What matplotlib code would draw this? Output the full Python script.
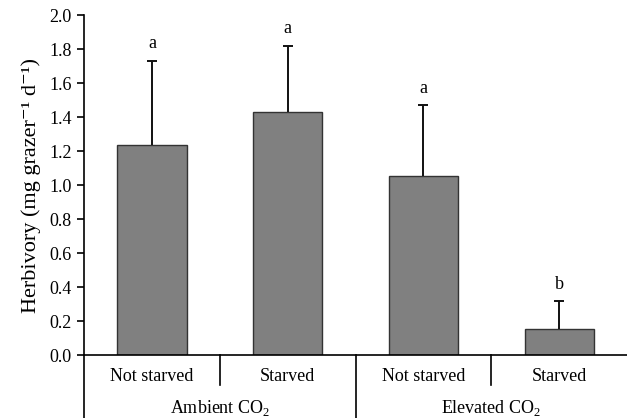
import matplotlib
matplotlib.use("Agg")
import matplotlib.pyplot as plt
import numpy as np

plt.rcParams['font.family'] = ['Liberation Serif', 'DejaVu Serif']
plt.rcParams['mathtext.fontset'] = 'custom'
plt.rcParams['mathtext.rm'] = 'Liberation Serif'

# herbivory means and upper error (SE) per treatment
treatments = ["Not starved", "Starved", "Not starved", "Starved"]
groups = ["Ambient CO$_\\mathrm{2}$", "Elevated CO$_\\mathrm{2}$"]
means = [1.235, 1.43, 1.055, 0.155]
errors = [0.495, 0.39, 0.415, 0.16]
letters = ["a", "a", "a", "b"]

fig = plt.figure(figsize=(6.27, 4.18), dpi=100)
ax = fig.add_axes([0.134, 0.1507, 0.866, 0.8133])

x = np.arange(len(means))
ax.bar(x, means, width=0.51, color="#808080", edgecolor="#333333", linewidth=1.0, zorder=2)
eb = ax.errorbar(x, means, yerr=[np.zeros(len(errors)), errors], fmt='none',
                 ecolor="#111111", elinewidth=1.4, capsize=3.5, capthick=1.4, zorder=3)
eb[1][0].set_visible(False)  # no cap at the bar top

for xi, m, e, lt in zip(x, means, errors, letters):
    ax.text(xi, m + e + 0.05, lt, ha='center', va='bottom', fontsize=13)

ax.set_xlim(-0.5, 3.5)
ax.set_ylim(0, 2.0)
ax.set_yticks(np.arange(0, 2.01, 0.2))
ax.set_yticklabels([f"{v:.1f}" for v in np.arange(0, 2.01, 0.2)], fontsize=13)
ax.set_xticks([])
ax.tick_params(axis='y', direction='out', length=5, width=1.2, pad=4)
ax.set_ylabel("Herbivory (mg grazer⁻¹ d⁻¹)", fontsize=16, labelpad=6)

for s in ['top', 'right']:
    ax.spines[s].set_visible(False)
ax.spines['left'].set_linewidth(1.2)
ax.spines['bottom'].set_linewidth(1.2)

# two-level category axis below the bars
trans = ax.get_xaxis_transform()
ax.plot([-0.5, -0.5], [0, -0.25], transform=trans, color='black', lw=1.2, clip_on=False)
for xd, bottom in [(0.5, -0.088), (1.5, -0.25), (2.5, -0.088)]:
    ax.plot([xd, xd], [0, bottom], transform=trans, color='black', lw=1.2, clip_on=False)
for xi, lab in zip(x, treatments):
    ax.text(xi, -0.062, lab, transform=trans, ha='center', va='center', fontsize=13)
for gi, lab in enumerate(groups):
    ax.text(gi * 2 + 0.5, -0.156, lab, transform=trans, ha='center', va='center', fontsize=13)

plt.savefig("out.png", dpi=100)
plt.close()
